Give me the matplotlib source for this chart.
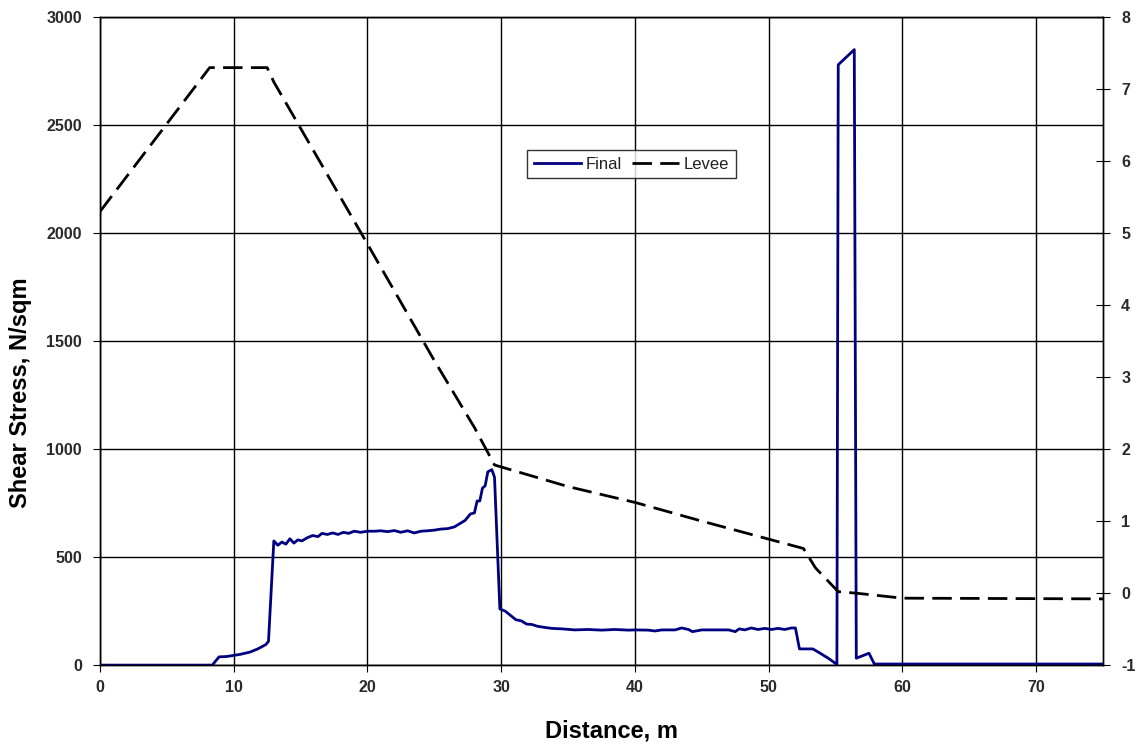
import matplotlib
matplotlib.use("Agg")
import matplotlib.pyplot as plt

plt.rcParams['font.family'] = ['Liberation Sans', 'DejaVu Sans']
plt.rcParams['axes.unicode_minus'] = False

# Shear stress along the section (N/sqm)
final_x = [0, 8.4, 8.9, 9.5, 10.5, 11.2, 11.8, 12.4, 12.6, 13.0, 13.3, 13.6, 13.9,
           14.2, 14.5, 14.8, 15.1, 15.5, 15.9, 16.3, 16.6, 17.0, 17.4, 17.8, 18.2,
           18.6, 19.0, 19.5, 20.0, 20.5, 21.0, 21.5, 22.0, 22.5, 23.0, 23.5, 24.0,
           24.5, 25.0, 25.5, 26.0, 26.5, 26.9, 27.3, 27.7, 28.0, 28.2, 28.4, 28.6,
           28.8, 29.0, 29.3, 29.5, 29.9, 30.3, 30.7, 31.1, 31.5, 31.9, 32.3, 32.7,
           33.2, 33.8, 34.5, 35.5, 36.5, 37.5, 38.5, 39.5, 40.0, 41.0, 41.5, 42.0,
           43.0, 43.5, 44.0, 44.3, 45.0, 46.0, 47.0, 47.5, 47.8, 48.2, 48.7, 49.2,
           49.7, 50.2, 50.7, 51.2, 51.7, 52.0, 52.3, 53.3, 53.85, 54.5, 55.1, 55.2,
           56.4, 56.55, 57.5, 57.9, 75.0]
final_y = [0, 0, 38, 40, 50, 60, 75, 95, 110, 575, 555, 570, 560,
           585, 565, 580, 575, 590, 600, 595, 610, 605, 612, 605, 615,
           610, 620, 615, 620, 620, 622, 618, 623, 615, 622, 612, 620,
           622, 625, 630, 632, 640, 655, 670, 700, 705, 760, 760, 820,
           830, 895, 905, 870, 260, 250, 230, 210, 205, 190, 188, 180,
           175, 170, 168, 163, 165, 162, 165, 162, 163, 162, 158, 163,
           163, 172, 165, 155, 163, 163, 163, 155, 168, 163, 172, 165,
           170, 165, 170, 165, 172, 172, 75, 75, 55, 30, 3, 2780,
           2850, 32, 55, 5, 5]

# Levee profile (right axis)
levee_x = [0, 8.2, 12.5, 13.0, 20.0, 25.0, 28.0, 29.5, 35.0, 40.0, 45.0, 50.0,
           52.6, 53.5, 55.2, 56.5, 60.0, 75.0]
levee_y = [5.3, 7.3, 7.3, 7.1, 4.85, 3.23, 2.3, 1.78, 1.48, 1.26, 1.0, 0.75,
           0.62, 0.35, 0.02, 0.0, -0.07, -0.08]

x_ticks = list(range(0, 80, 10))
left_ticks = list(range(0, 3001, 500))
right_ticks = list(range(-1, 9))

tick_color = '#2a2a2a'

fig = plt.figure(figsize=(11.36, 7.49), dpi=100)
ax = fig.add_axes([0.088, 0.112, 0.883, 0.865])
ax2 = ax.twinx()

ax.plot(final_x, final_y, color='#000080', lw=2.0, label='Final', zorder=3)
ax2.plot(levee_x, levee_y, color='black', lw=2.0, dashes=(7, 3), label='Levee')

ax.set_xlim(0, 75)
ax.set_ylim(0, 3000)
ax2.set_ylim(-1, 8)
ax.set_xticks(x_ticks)
ax.set_yticks(left_ticks)
ax2.set_yticks(right_ticks)

ax.grid(True, color='black', lw=1.0)
ax.set_axisbelow(True)
for a in (ax, ax2):
    for s in a.spines.values():
        s.set_color('black')
        s.set_linewidth(1.0)

ax.tick_params(axis='x', direction='out', length=5, color='black',
               labelsize=11.5, labelcolor=tick_color, pad=6)
ax.tick_params(axis='y', direction='out', length=5, color='black',
               labelsize=11.5, labelcolor=tick_color, pad=8)
ax2.tick_params(axis='y', direction='inout', length=10, color='black',
                labelsize=11.5, labelcolor=tick_color, pad=8)
for lab in ax.get_xticklabels() + ax.get_yticklabels() + ax2.get_yticklabels():
    lab.set_fontweight('bold')

ax.set_xlabel('Distance, m', fontsize=17, fontweight='bold', va='center')
ax.set_ylabel('Shear Stress, N/sqm', fontsize=17, fontweight='bold', va='center')
ax.xaxis.set_label_coords(0.51, -0.102)
ax.yaxis.set_label_coords(-0.079, 0.42)

h1, l1 = ax.get_legend_handles_labels()
h2, l2 = ax2.get_legend_handles_labels()
leg = ax2.legend(h1 + h2, l1 + l2, loc='center', bbox_to_anchor=(0.53, 0.773),
                 ncol=2, fontsize=12, frameon=True, fancybox=False,
                 handlelength=2.8, columnspacing=0.6, handletextpad=0.3,
                 borderpad=0.4)
leg.get_frame().set_edgecolor('black')
leg.get_frame().set_linewidth(1.0)
for t in leg.get_texts():
    t.set_color('#202020')

fig.savefig('out.png', dpi=100)
